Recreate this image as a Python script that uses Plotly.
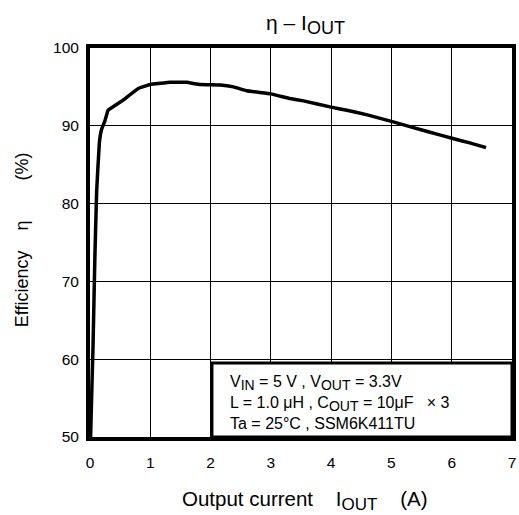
import plotly.graph_objects as go

# Efficiency curve
iout = [0.01, 0.03, 0.05, 0.08, 0.11, 0.155, 0.19, 0.25, 0.3, 0.55, 0.8, 1.0, 1.33, 1.6, 1.83,
        2.16, 2.38, 2.6, 3.0, 3.32, 3.54, 4.0, 4.26, 4.6, 5.03, 5.58, 6.05, 6.3, 6.57]
eff = [50.0, 56.0, 61.6, 72.8, 81.5, 87.8, 89.5, 90.7, 92.0, 93.3, 94.8, 95.3, 95.6, 95.6, 95.3,
       95.25, 95.0, 94.5, 94.1, 93.5, 93.2, 92.4, 92.0, 91.4, 90.5, 89.3, 88.3, 87.8, 87.2]

x_ticks = [0, 1, 2, 3, 4, 5, 6, 7]
y_ticks = [50, 60, 70, 80, 90, 100]

FONT = "Liberation Sans, Arial, sans-serif"
NB = "\u00a0"


def sub(t, px):
    return '<sub><span style="font-size:%dpx">%s</span></sub>' % (px, t)


fig = go.Figure()
fig.add_trace(go.Scatter(x=iout, y=eff, mode="lines",
                         line=dict(color="black", width=3.5, shape="spline", smoothing=0.2),
                         hoverinfo="skip", showlegend=False))

fig.update_layout(
    width=519, height=515,
    margin=dict(l=90, r=7, t=48, b=78, autoexpand=False),
    paper_bgcolor="white", plot_bgcolor="white",
    font=dict(family=FONT, color="black", size=15),
    showlegend=False,
    xaxis=dict(range=[0, 7], tickvals=x_ticks, ticktext=[str(v) for v in x_ticks],
               showgrid=True, gridcolor="black", gridwidth=1, zeroline=False,
               showline=True, linecolor="black", linewidth=4, mirror=True,
               ticks="", ticklabelstandoff=8, ticklabeloverflow="allow",
               automargin=False, tickfont=dict(size=15.5)),
    yaxis=dict(range=[50, 100], tickvals=y_ticks, ticktext=[str(v) for v in y_ticks],
               showgrid=True, gridcolor="black", gridwidth=1, zeroline=False,
               showline=True, linecolor="black", linewidth=4, mirror=True,
               ticks="", ticklabelstandoff=4, ticklabeloverflow="allow",
               automargin=False, tickfont=dict(size=15.5)),
)

# condition box
fig.add_shape(type="rect", xref="paper", yref="paper", x0=0.289, x1=1.0, y0=0.0, y1=0.19,
              line=dict(color="black", width=3), fillcolor="white", layer="above")
cond_text = ("V" + sub("IN", 14) + " = 5 V , V" + sub("OUT", 14) + " = 3.3V<br>"
             "L = 1.0 \u03bcH , C" + sub("OUT", 14) + " = 10\u03bcF" + NB * 3 + "\u00d7 3<br>"
             "Ta = 25\u00b0C , SSM6K411TU")
fig.add_annotation(text=cond_text, xref="paper", yref="paper", x=0.327, y=0.088,
                   xanchor="left", yanchor="middle", align="left", showarrow=False,
                   font=dict(size=16, family=FONT, color="black"))

# title
fig.add_annotation(text="\u03b7 \u2013 I" + sub("OUT", 18), xref="paper", yref="paper",
                   x=0.51, y=1.0, yshift=24, xanchor="center", yanchor="middle",
                   showarrow=False, font=dict(size=21, family=FONT))
# x title
fig.add_annotation(text="Output current" + NB * 4 + "I" + sub("OUT", 17) + NB * 4 + "(A)",
                   xref="paper", yref="paper", x=0.51, y=0.0, yshift=-63,
                   xanchor="center", yanchor="middle", showarrow=False,
                   font=dict(size=20.5, family=FONT))
# y title
fig.add_annotation(text="Efficiency" + NB * 4 + "\u03b7" + NB * 8 + "(%)",
                   xref="paper", yref="paper", x=0.0, xshift=-68, y=0.506,
                   xanchor="center", yanchor="middle", textangle=-90, showarrow=False,
                   font=dict(size=18, family=FONT))

fig.write_html("out.html", config={"displayModeBar": False},
               post_script="document.body.style.margin='0';")
